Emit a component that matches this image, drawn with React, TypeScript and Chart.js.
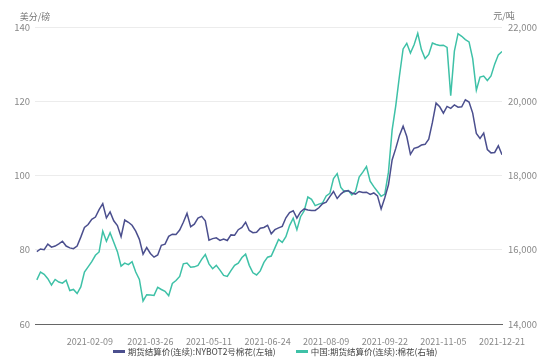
import React, { useEffect, useRef } from "react";
import { Chart, registerables } from "chart.js";

Chart.register(...registerables);

// first trading day of the axis and sampling step (in trading days)
const START_DATE = "2020-12-29";
const FIRST_OFFSET = 1;
const STEP = 2;
const AXIS_END_DATE = "2021-12-21";

const tickDates = [
  "2021-02-09",
  "2021-03-26",
  "2021-05-11",
  "2021-06-24",
  "2021-08-09",
  "2021-09-22",
  "2021-11-05",
  "2021-12-21",
];

const leftTicks = [60, 80, 100, 120, 140];
const rightTicks = [14000, 16000, 18000, 20000, 22000];

const seriesNames = [
  "期货结算价(连续):NYBOT2号棉花(左轴)",
  "中国:期货结算价(连续):棉花(右轴)",
];

// NYBOT No.2 cotton, US cents / lb (left axis)
const nybot = [
  79.5, 80.2, 80.0, 81.5, 80.7, 81.0, 81.6, 82.3, 81.0, 80.5,
  80.3, 81.0, 83.4, 86.0, 86.8, 88.2, 88.8, 90.8, 92.4, 88.6,
  90.2, 87.8, 86.5, 83.5, 88.0, 87.4, 86.6, 85.0, 82.8, 78.8,
  80.6, 79.0, 78.0, 78.6, 81.2, 81.5, 83.6, 84.2, 84.1, 85.3,
  87.4, 89.8, 86.2, 86.9, 88.5, 89.0, 87.8, 82.6, 83.0, 83.2,
  82.5, 82.9, 82.5, 84.0, 83.9, 85.4, 86.0, 87.4, 85.2, 84.6,
  84.7, 85.8, 86.0, 86.6, 84.3, 85.4, 85.9, 86.3, 88.6, 90.0,
  90.5, 88.5, 90.2, 91.0, 90.7, 90.6, 90.6, 91.3, 92.4, 92.8,
  94.3, 95.7, 93.8, 95.0, 95.8, 95.9, 95.3, 95.0, 95.7, 95.4,
  95.5, 94.9, 95.3, 94.5, 91.0, 94.0, 97.5, 104.2, 107.3, 110.8,
  113.3, 110.5, 105.7, 107.3, 107.6, 108.2, 108.4, 109.8, 114.3, 119.5,
  118.5, 116.8, 118.6, 118.1, 119.0, 118.4, 118.5, 120.4, 119.8, 116.8,
  111.3, 110.0, 111.4, 107.0, 106.1, 106.2, 108.0, 105.6,
];

// Zhengzhou cotton, yuan / tonne (right axis)
const zhengzhou = [
  15190, 15400, 15340, 15220, 15050, 15200, 15130, 15100, 15180, 14900,
  14930, 14820, 15000, 15400, 15540, 15680, 15850, 15940, 16500, 16230,
  16460, 16200, 15950, 15560, 15640, 15600, 15680, 15400, 15200, 14620,
  14790, 14780, 14770, 14990, 14930, 14880, 14760, 15090, 15170, 15280,
  15620, 15640, 15530, 15540, 15580, 15740, 15870, 15620, 15490, 15580,
  15450, 15310, 15280, 15440, 15580, 15640, 15790, 15880, 15580, 15380,
  15320, 15430, 15660, 15800, 15830, 16050, 16280, 16200, 16350, 16650,
  16850, 16540, 16890, 17050, 17420, 17360, 17190, 17230, 17260, 17450,
  17520, 17920, 18050, 17680, 17560, 17600, 17480, 17570, 17960, 18090,
  18240, 17850, 17700, 17570, 17440, 17500, 18090, 19220, 19880, 20680,
  21410, 21560, 21300, 21520, 21830, 21390, 21150, 21260, 21570, 21530,
  21500, 21510, 21450, 20150, 21350, 21820, 21750, 21660, 21600, 21150,
  20300, 20650, 20680, 20560, 20680, 21000, 21250, 21340,
];

const NAVY = "#4b4f8e";
const TEAL = "#3ec1a7";
const FONT = "'Noto Sans CJK SC', 'Noto Sans', sans-serif";
const seriesColors = [NAVY, TEAL];

function tradingIndex(date: string): number {
  const p = (s: string) => {
    const [y, m, d] = s.split("-").map(Number);
    return Date.UTC(y, m - 1, d);
  };
  let n = 0;
  for (let t = p(START_DATE); t < p(date); t += 86400000) {
    const wd = new Date(t).getUTCDay();
    if (wd !== 0 && wd !== 6) n++;
  }
  return n;
}

const unitPlugin = {
  id: "unitTitles",
  afterDraw(chart: any) {
    const { ctx, chartArea } = chart;
    ctx.save();
    ctx.fillStyle = "#777";
    ctx.font = `9px ${FONT}`;
    ctx.textBaseline = "middle";
    ctx.textAlign = "center";
    ctx.fillText("美分/磅", chartArea.left, chartArea.top - 10);
    ctx.fillText("元/吨", chartArea.right + 2, chartArea.top - 11);
    ctx.restore();
  },
};

export default function App() {
  const ref = useRef<HTMLCanvasElement | null>(null);

  useEffect(() => {
    if (!ref.current) return;
    const tickIdx = tickDates.map(tradingIndex);
    const axisEnd = tradingIndex(AXIS_END_DATE);
    const chart = new Chart(ref.current, {
      type: "line",
      data: {
        datasets: [
          {
            label: seriesNames[0],
            data: nybot.map((v, k) => ({ x: FIRST_OFFSET + k * STEP, y: v })),
            borderColor: NAVY,
            backgroundColor: NAVY,
            borderWidth: 1.5,
            pointRadius: 0,
            yAxisID: "yL",
          },
          {
            label: seriesNames[1],
            data: zhengzhou.map((v, k) => ({ x: FIRST_OFFSET + k * STEP, y: v })),
            borderColor: TEAL,
            backgroundColor: TEAL,
            borderWidth: 1.5,
            pointRadius: 0,
            yAxisID: "yR",
          },
        ],
      },
      options: {
        animation: false,
        responsive: false,
        maintainAspectRatio: false,
        layout: { padding: { top: 27, left: 0, right: 0, bottom: 0 } },
        plugins: {
          legend: { display: false },
          tooltip: { enabled: false },
        },
        scales: {
          x: {
            type: "linear",
            min: 0,
            max: axisEnd,
            afterBuildTicks: (axis: any) => {
              axis.ticks = tickIdx.map((v) => ({ value: v }));
            },
            afterFit: (axis: any) => {
              axis.height = 39;
            },
            grid: { display: false },
            border: { display: true, color: "#666", width: 1 },
            ticks: {
              autoSkip: false,
              maxRotation: 0,
              padding: 4,
              color: "#888",
              font: { size: 9, family: FONT },
              callback: (_v: any, i: number) => tickDates[i],
            },
          },
          yL: {
            type: "linear",
            position: "left",
            min: 60,
            max: 140,
            afterBuildTicks: (axis: any) => {
              axis.ticks = leftTicks.map((v) => ({ value: v }));
            },
            afterFit: (axis: any) => {
              axis.width = 35;
            },
            grid: { color: "#ececec", drawTicks: false },
            border: { display: false },
            ticks: {
              padding: 5,
              color: "#888",
              font: { size: 9.5, family: FONT },
            },
          },
          yR: {
            type: "linear",
            position: "right",
            min: 14000,
            max: 22000,
            afterBuildTicks: (axis: any) => {
              axis.ticks = rightTicks.map((v) => ({ value: v }));
            },
            afterFit: (axis: any) => {
              axis.width = 48;
            },
            grid: { display: false, drawTicks: false },
            border: { display: false },
            ticks: {
              padding: 6,
              color: "#888",
              font: { size: 9.5, family: FONT },
              callback: (v: any) => Number(v).toLocaleString("en-US"),
            },
          },
        },
      },
      plugins: [unitPlugin],
    } as any);
    return () => chart.destroy();
  }, []);

  return (
    <div style={{ position: "fixed", left: 0, top: 0, width: 550, height: 363, background: "#fff" }}>
      <canvas ref={ref} width={550} height={363} style={{ display: "block", width: 550, height: 363 }} />
      <div
        style={{
          position: "absolute",
          left: 0,
          top: 344,
          width: 550,
          height: 14,
          display: "flex",
          justifyContent: "center",
          alignItems: "center",
          gap: 20,
          fontFamily: FONT,
          fontSize: 8.5,
          color: "#444",
          lineHeight: "14px",
          whiteSpace: "nowrap",
        }}
      >
        {seriesNames.map((name, i) => (
          <div key={name} style={{ display: "flex", alignItems: "center" }}>
            <span style={{ display: "inline-block", width: 12, height: 3, background: seriesColors[i], marginRight: 3 }} />
            <span>{name}</span>
          </div>
        ))}
      </div>
    </div>
  );
}
